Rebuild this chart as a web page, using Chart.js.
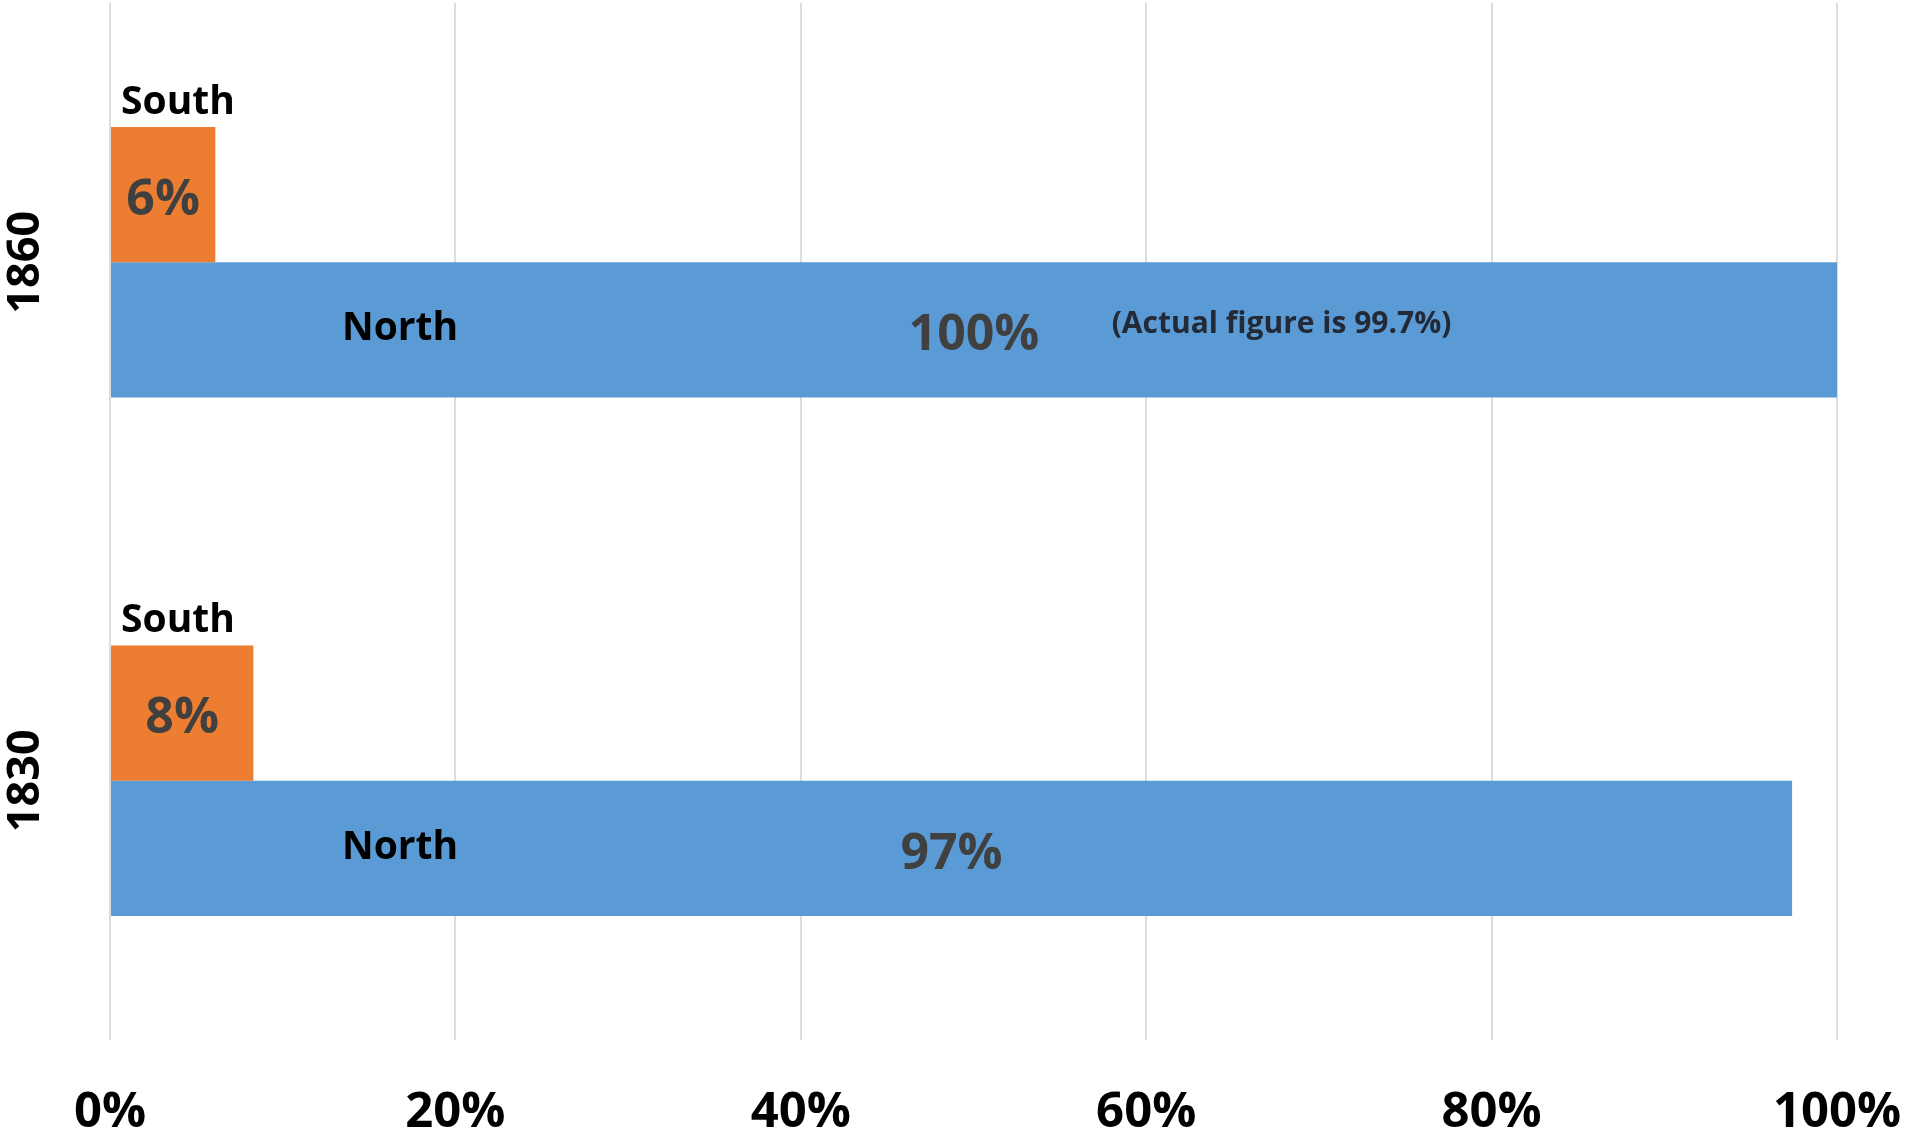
<!DOCTYPE html>
<html>
<head>
<meta charset="utf-8">
<script src="https://cdn.jsdelivr.net/npm/chart.js@4"></script>
<style>
  html, body { margin: 0; padding: 0; background: #fff; }
  #wrap { width: 1907px; height: 1130px; }
</style>
</head>
<body>
<div id="wrap"><canvas id="chart"></canvas></div>
<script>
// share of population that was literate, by region
const years = ["1860", "1830"];
const southShare = [6.1, 8.3];
const northShare = [100, 97.4];
const seriesNames = ["South", "North"];
const xTicks = [0, 20, 40, 60, 80, 100];
const noteText = "(Actual figure is 99.7%)";

const FONT = "'Open Sans', 'Noto Sans', sans-serif";

const labelPlugin = {
  id: "barLabels",
  afterDatasetsDraw(chart) {
    const c = chart.ctx;
    const yScale = chart.scales.y;
    const xScale = chart.scales.x;
    c.save();

    // year labels on the left, rotated
    c.fillStyle = "#000";
    c.font = "bold 45px " + FONT;
    c.textAlign = "center";
    c.textBaseline = "middle";
    years.forEach((yr, i) => {
      c.save();
      c.translate(26, yScale.getPixelForTick(i));
      c.rotate(-Math.PI / 2);
      c.fillText(yr, 0, 0);
      c.restore();
    });

    // south bars: name above, value inside
    chart.getDatasetMeta(0).data.forEach((bar, i) => {
      const top = bar.y - bar.height / 2;
      c.font = "bold 39px " + FONT;
      c.fillStyle = "#000";
      c.textAlign = "left";
      c.textBaseline = "alphabetic";
      c.fillText(seriesNames[0], bar.base + 10, top - 13);

      c.font = "bold 50px " + FONT;
      c.fillStyle = "#404040";
      c.textAlign = "center";
      c.textBaseline = "middle";
      c.fillText(Math.round(southShare[i]) + "%", (bar.x + bar.base) / 2, bar.y + 6);
    });

    // north bars: name inside near the start, value centred
    chart.getDatasetMeta(1).data.forEach((bar, i) => {
      c.font = "bold 39px " + FONT;
      c.fillStyle = "#000";
      c.textAlign = "center";
      c.textBaseline = "middle";
      c.fillText(seriesNames[1], bar.base + 289, bar.y - 1);

      c.font = "bold 50px " + FONT;
      c.fillStyle = "#404040";
      c.fillText(Math.round(northShare[i]) + "%", (bar.x + bar.base) / 2, bar.y + 6);

      if (i === 0) {
        c.font = "bold 30px " + FONT;
        c.fillStyle = "#232a36";
        c.textAlign = "left";
        c.fillText(noteText, xScale.getPixelForValue(58), bar.y - 5);
      }
    });

    c.restore();
  },
};

const ctx = document.querySelector("#chart").getContext("2d");

const chart = new Chart(ctx, {
  type: "bar",
  data: {
    labels: years,
    datasets: [
      {
        label: seriesNames[0],
        data: southShare,
        backgroundColor: "#ED7D31",
        borderWidth: 0,
      },
      {
        label: seriesNames[1],
        data: northShare,
        backgroundColor: "#5B9BD5",
        borderWidth: 0,
      },
    ],
  },
  options: {
    indexAxis: "y",
    responsive: true,
    maintainAspectRatio: false,
    animation: false,
    categoryPercentage: 0.522,
    barPercentage: 1,
    layout: { padding: { top: 3, right: 70, left: 0, bottom: 0 } },
    plugins: {
      legend: { display: false },
      tooltip: { enabled: false },
    },
    scales: {
      x: {
        min: 0,
        max: 100,
        afterBuildTicks: (scale) => {
          scale.ticks = xTicks.map((v) => ({ value: v }));
        },
        afterFit: (scale) => {
          scale.height = 90;
          scale.paddingLeft = 0;
          scale.paddingRight = 0;
        },
        grid: { color: "#dcdcdc", lineWidth: 2, drawTicks: false },
        border: { display: false },
        ticks: {
          color: "#000",
          font: { family: FONT, size: 49, weight: "bold" },
          padding: 44,
          maxRotation: 0,
          callback: (v) => v + "%",
        },
      },
      y: {
        afterFit: (scale) => {
          scale.width = 110;
        },
        grid: { display: false },
        border: { display: false },
        ticks: { display: false },
      },
    },
  },
  plugins: [labelPlugin],
});
</script>
</body>
</html>
